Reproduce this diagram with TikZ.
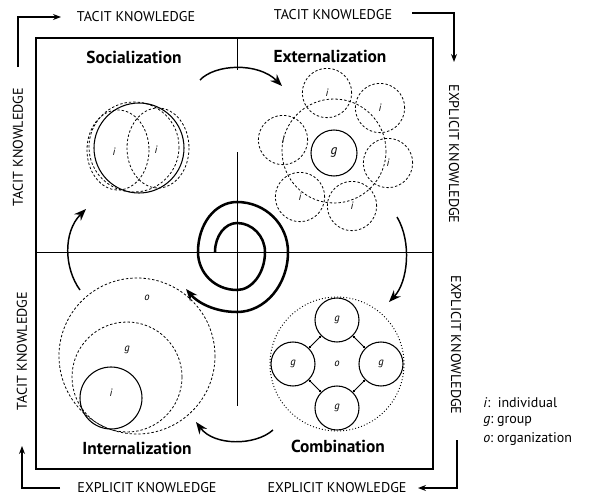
\documentclass[tikz,border=0pt]{standalone}
\usepackage{fontspec}
\setmainfont{PT Sans}
\usetikzlibrary{arrows.meta}
\begin{document}
\begin{tikzpicture}[x=0.75pt,y=-0.75pt,
  lab/.style={font=\fontsize{10.6}{12}\selectfont, inner sep=0pt},
  ttl/.style={font=\fontsize{13}{15}\selectfont\bfseries, inner sep=0pt},
  frame/.style={line width=0.9pt},
  divider/.style={line width=0.6pt},
  edgearrow/.style={line width=0.9pt, -{Stealth[length=6pt,width=4.5pt]}},
  cyc/.style={line width=1.1pt, -{Stealth[length=9pt,width=7pt]}},
  spir/.style={line width=1.9pt, -{Stealth[length=9pt,width=7pt]}},
  dashc/.style={dash pattern=on 1.8pt off 1.5pt, line width=0.6pt},
  dotc/.style={dash pattern=on 0.7pt off 1.6pt, line width=0.7pt},
  gnode/.style={circle, draw, line width=0.8pt, inner sep=0pt, minimum size=33pt},
  inode/.style={circle, draw, dashc, inner sep=0pt, minimum size=37pt},
  ltr/.style={font=\fontsize{8}{9}\selectfont\itshape, inner sep=0pt},
  lgd/.style={font=\fontsize{10.5}{12}\selectfont, inner sep=0pt, anchor=west},
]
\useasboundingbox (0,0) rectangle (604,496);

% main frame and dividers
\draw[frame] (36,38) rectangle (433,469);
\coordinate (vt) at (237,38);
\coordinate (vta) at (237,70);
\coordinate (vtb) at (237,152);
\coordinate (vbb) at (237,406);
\coordinate (hl) at (36,252);
\coordinate (hr) at (433,252);
\draw[divider] (vt) -- (vta);
\draw[divider] (vtb) -- (vbb);
\draw[divider] (hl) -- (hr);

% outer labels
\node[lab] (tk1) at (136,17) {TACIT KNOWLEDGE};
\node[lab] (tk2) at (333,15) {TACIT KNOWLEDGE};
\node[lab, rotate=-90] (ek1) at (454,154) {EXPLICIT KNOWLEDGE};
\node[lab, rotate=-90] (ek2) at (456,345) {EXPLICIT KNOWLEDGE};
\node[lab] (ek3) at (337,488) {EXPLICIT KNOWLEDGE};
\node[lab] (ek4) at (147,488) {EXPLICIT KNOWLEDGE};
\node[lab, rotate=90] (tk3) at (22,351) {TACIT KNOWLEDGE};
\node[lab, rotate=90] (tk4) at (18,147) {TACIT KNOWLEDGE};

% outer corner arrows
\coordinate (a1s) at (18,67); \coordinate (a1c) at (18,17); \coordinate (a1e) at (61,17);
\draw[edgearrow] (a1s) -- (a1c) -- (a1e);
\coordinate (a2s) at (412,13); \coordinate (a2c) at (454,13); \coordinate (a2e) at (454,62);
\draw[edgearrow] (a2s) -- (a2c) -- (a2e);
\coordinate (a3s) at (457,440); \coordinate (a3c) at (457,488); \coordinate (a3e) at (418,488);
\draw[edgearrow] (a3s) -- (a3c) -- (a3e);
\coordinate (a4s) at (60,488); \coordinate (a4c) at (22,488); \coordinate (a4e) at (22,446);
\draw[edgearrow] (a4s) -- (a4c) -- (a4e);

% titles
\node[ttl] (soc) at (134,57) {Socialization};
\node[ttl] (ext) at (330,56) {Externalization};
\node[ttl] (int) at (137,448) {Internalization};
\node[ttl] (com) at (338,446) {Combination};

% cycle arrows
\coordinate (c1s) at (200,80); \coordinate (c1e) at (282,86);
\draw[cyc] (c1s) .. controls (215,64) and (258,62) .. (c1e);
\coordinate (c2s) at (397,217); \coordinate (c2e) at (389,302);
\draw[cyc] (c2s) .. controls (412,242) and (408,282) .. (c2e);
\coordinate (c3s) at (273,430); \coordinate (c3e) at (196,422);
\draw[cyc] (c3s) .. controls (255,446) and (214,446) .. (c3e);
\coordinate (c4s) at (80,290); \coordinate (c4e) at (86,209);
\draw[cyc] (c4s) .. controls (64,268) and (63,232) .. (c4e);

% spiral
\coordinate (sp0) at (215,252);
\coordinate (spe) at (186,289);
\draw[spir] (sp0)
  .. controls (215,236) and (225,223) .. (237,223)
  .. controls (252,223) and (265,236) .. (265,252)
  .. controls (265,273) and (252,290) .. (237,290)
  .. controls (215,290) and (198,273) .. (198,252)
  .. controls (198,224) and (215,202) .. (237,202)
  .. controls (265,202) and (288,224) .. (288,252)
  .. controls (288,285) and (265,312) .. (237,312)
  .. controls (214,312) and (197,302) .. (spe);

% Socialization: two individuals
\draw[line width=0.8pt] (139,148) circle[radius=45];
\draw[dashc] (134,147) circle[radius=45];
\draw[dashc] (118,150) ellipse[x radius=31, y radius=40];
\draw[dashc] (158,148) ellipse[x radius=31, y radius=40];
\node[ltr] (si1) at (114,152) {i};
\node[ltr] (si2) at (156,150) {i};

% Externalization: individuals around a group
\draw[dashc] (334,151) circle[radius=52];
\node[gnode, minimum size=34.5pt] (eg) at (334,153) {\itshape g};
\foreach \n/\p in {e1/{(327,93)}, e2/{(380,108)}, e3/{(388,163)}, e4/{(352,206)}, e5/{(300,197)}, e6/{(283,140)}}{
  \node[inode] (\n) at \p {\itshape\fontsize{8}{9}\selectfont i};
}

% Combination: groups within the organization
\draw[dotc] (337,364) circle[radius=67];
\node[gnode] (gt) at (337,320) {\itshape\fontsize{8}{9}\selectfont g};
\node[gnode] (gr) at (381,364) {\itshape\fontsize{8}{9}\selectfont g};
\node[gnode] (gb) at (337,408) {\itshape\fontsize{8}{9}\selectfont g};
\node[gnode] (gl) at (293,364) {\itshape\fontsize{8}{9}\selectfont g};
\node[ltr] (co) at (337,364) {o};
\foreach \a/\b in {gt/gr, gr/gb, gb/gl, gl/gt}{
  \draw[line width=0.7pt, {Circle[length=2.2pt]}-{Circle[length=2.2pt]}] (\a) -- (\b);
}

% Internalization: nested i, g, o
\draw[dashc] (137,356) circle[radius=78];
\draw[dashc] (127,377) circle[radius=55];
\draw[line width=0.8pt] (111,398) circle[radius=31];
\node[ltr] (io) at (147,298) {o};
\node[ltr] (ig) at (127,350) {g};
\node[ltr] (ii) at (111,393) {i};

% legend
\node[lgd] (l1) at (483,403) {\textit{i}:\ \ individual};
\node[lgd] (l2) at (483,421) {\textit{g}:\ group};
\node[lgd] (l3) at (483,439) {\textit{o}:\ organization};
\end{tikzpicture}
\end{document}
